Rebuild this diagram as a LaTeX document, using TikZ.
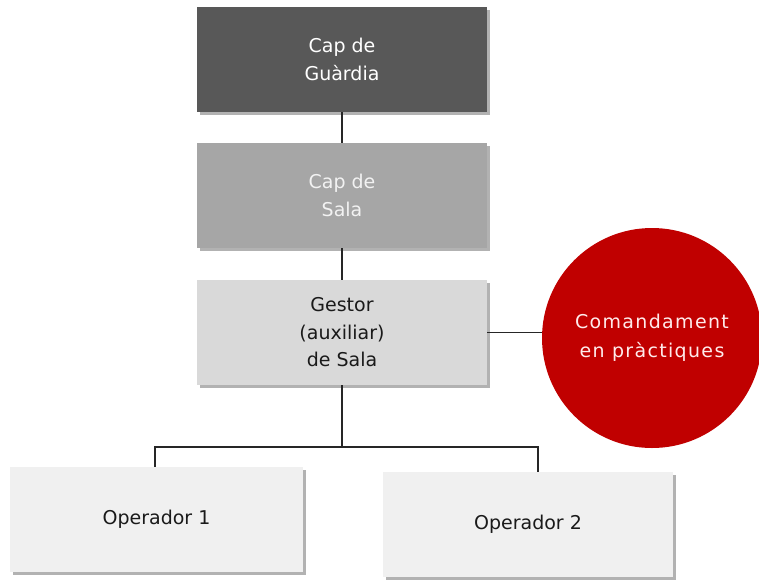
\documentclass[tikz,border=0pt]{standalone}
\usepackage{fontspec}
\setmainfont{DejaVu Sans}
\newfontfamily\spacedfont[LetterSpace=7]{DejaVu Sans}
\usetikzlibrary{shadows}
\definecolor{boxA}{HTML}{585858}
\definecolor{boxB}{HTML}{A6A6A6}
\definecolor{boxC}{HTML}{D9D9D9}
\definecolor{boxD}{HTML}{F0F0F0}
\definecolor{redc}{HTML}{C00000}
\definecolor{linec}{HTML}{262626}
\definecolor{txtdark}{HTML}{1A1A1A}
\begin{document}
\begin{tikzpicture}[x=1pt,y=-1pt,
  orgbox/.style={rectangle, draw=none, minimum width=290pt, minimum height=105pt,
    inner sep=0pt, align=center, font=\fontsize{19}{27.5}\selectfont,
    drop shadow={shadow xshift=2.5pt, shadow yshift=-2.5pt, fill=black, opacity=0.3}},
  conn/.style={draw=linec, line width=1.6pt}
]
\useasboundingbox (0,0) rectangle (759,579);
\node[orgbox, fill=boxA, text=white] (guardia) at (342,59.5) {Cap de\\Guàrdia};
\node[orgbox, fill=boxB, text=white!95!black] (sala) at (342,195.5) {Cap de\\Sala};
\node[orgbox, fill=boxC, text=txtdark] (gestor) at (342,332.5) {Gestor\\(auxiliar)\\de Sala};
\node[orgbox, fill=boxD, text=txtdark, minimum width=293pt] (op1) at (156.5,519.5) {Operador 1};
\node[orgbox, fill=boxD, text=txtdark] (op2) at (528,524.5) {Operador 2};
\node[circle, fill=redc, minimum size=220pt, inner sep=0pt, align=center,
  text=white!92!red, font=\spacedfont\fontsize{19}{29}\selectfont] (cmd) at (652,338) {Comandament\\en pràctiques};
\coordinate (bus) at (342,447);
\coordinate (b1) at (155,447);
\coordinate (b2) at (538,447);
\draw[conn] (guardia.south) -- (sala.north);
\draw[conn] (sala.south) -- (gestor.north);
\draw[conn] (gestor.east) -- (gestor.east -| cmd.west);
\draw[conn] (gestor.south) -- (bus);
\draw[conn] (b1 |- op1.north) -- (b1) -- (b2) -- (b2 |- op2.north);
\end{tikzpicture}
\end{document}
